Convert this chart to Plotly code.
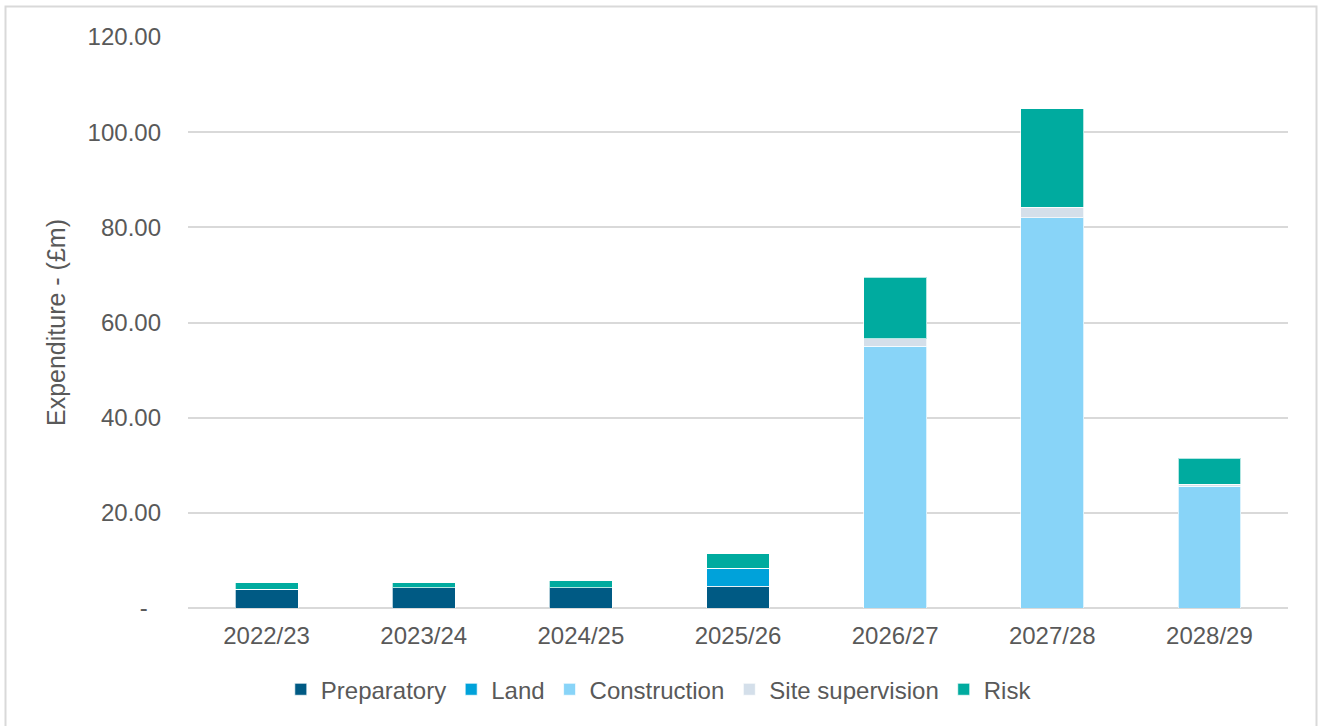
import plotly.graph_objects as go

# Financial years and spend by cost component (£m)
years = ["2022/23", "2023/24", "2024/25", "2025/26", "2026/27", "2027/28", "2028/29"]
preparatory = [3.94, 4.24, 4.24, 4.57, 0, 0, 0]
land = [0, 0, 0, 3.78, 0, 0, 0]
construction = [0, 0, 0, 0, 55.0, 82.0, 25.55]
site_supervision = [0, 0, 0, 0, 1.6, 2.2, 0.5]
risk = [1.41, 1.1, 1.47, 3.08, 12.9, 20.7, 5.45]

y_tick_vals = [0, 20, 40, 60, 80, 100, 120]
y_tick_text = ["-\u00a0\u00a0", "20.00", "40.00", "60.00", "80.00", "100.00", "120.00"]

series = [
    ("Preparatory", preparatory, "#005A84"),
    ("Land", land, "#00A2DA"),
    ("Construction", construction, "#88D4F8"),
    ("Site supervision", site_supervision, "#D4DFEA"),
    ("Risk", risk, "#00AB9F"),
]

font_family = "Liberation Sans, Arial, sans-serif"
text_color = "#595959"
font_size = 24

fig = go.Figure()
for name, values, color in series:
    fig.add_trace(go.Bar(
        name=name,
        x=years,
        y=values,
        marker=dict(color=color, line=dict(color="rgba(255,255,255,0.7)", width=1)),
    ))

fig.update_layout(
    barmode="stack",
    bargap=0.6,
    width=1319,
    height=726,
    margin=dict(l=188, r=31, t=37, b=118),
    paper_bgcolor="white",
    plot_bgcolor="white",
    font=dict(family=font_family, color=text_color, size=font_size),
    showlegend=True,
    legend=dict(
        orientation="h",
        x=0.428, xanchor="center",
        y=-0.143, yanchor="middle",
        font=dict(size=font_size, color=text_color),
        itemwidth=30,
        traceorder="normal",
    ),
    xaxis=dict(
        showgrid=False,
        showline=False,
        ticks="",
        tickfont=dict(size=font_size, color=text_color),
        ticklabelstandoff=11,
    ),
    yaxis=dict(
        range=[0, 120],
        tickvals=y_tick_vals,
        ticktext=y_tick_text,
        showgrid=True,
        gridcolor="#D9D9D9",
        gridwidth=2,
        zeroline=True,
        zerolinecolor="#D9D9D9",
        zerolinewidth=2,
        showline=False,
        ticks="",
        tickfont=dict(size=font_size, color=text_color),
        ticklabelstandoff=26,
        title=dict(text="Expenditure - (£m)", font=dict(size=25, color=text_color), standoff=14),
    ),
)

# Light frame around the whole chart
fig.add_shape(
    type="rect", xref="paper", yref="paper",
    x0=(5.5 - 188) / 1100, x1=(1316.5 - 188) / 1100,
    y0=(608.5 - 740) / 571.5, y1=(608.5 - 6.5) / 571.5,
    line=dict(color="#D9D9D9", width=2),
    fillcolor="rgba(0,0,0,0)",
    layer="below",
)

fig.write_html("out.html")
